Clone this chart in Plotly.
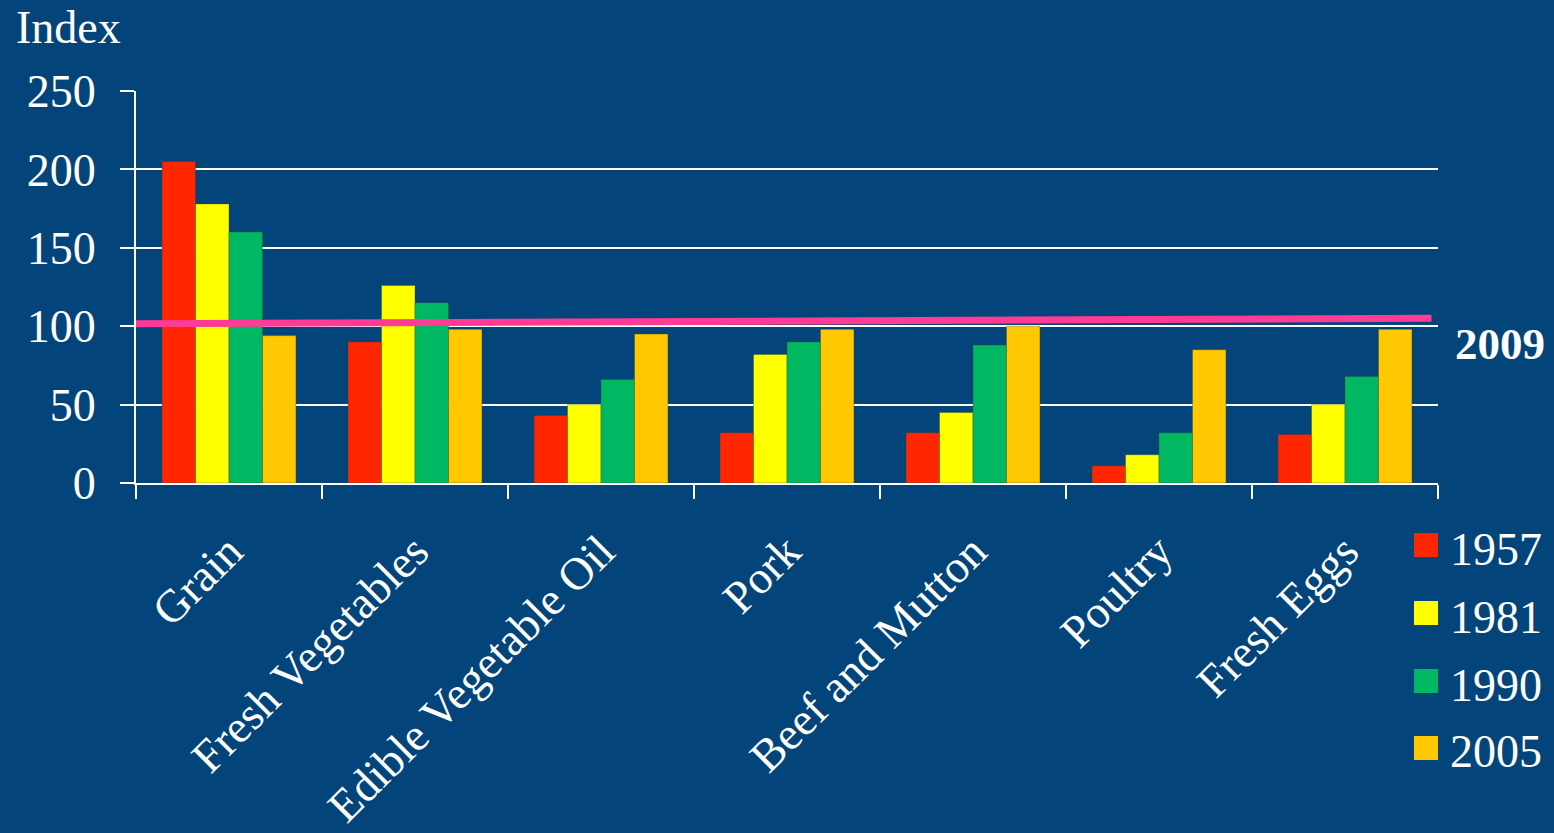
import plotly.graph_objects as go

categories = ["Grain", "Fresh Vegetables", "Edible Vegetable Oil", "Pork",
              "Beef and Mutton", "Poultry", "Fresh Eggs"]
years = ["1957", "1981", "1990", "2005"]
v1957 = [205, 90, 43, 32, 32, 11, 31]
v1981 = [178, 126, 50, 82, 45, 18, 50]
v1990 = [160, 115, 66, 90, 88, 32, 68]
v2005 = [94, 98, 95, 98, 100, 85, 98]
series = [v1957, v1981, v1990, v2005]
colors = ["#FF2600", "#FFFF00", "#00B862", "#FFC800"]

line_label = "2009"
line_x = [0.0, 0.995]
line_y = [101.5, 105.0]

y_ticks = [0, 50, 100, 150, 200, 250]

BG = "#03457A"
FONT = "Liberation Serif, Times New Roman, serif"

fig = go.Figure()
for name, vals, col in zip(years, series, colors):
    fig.add_trace(go.Bar(x=categories, y=vals, name=name, marker_color=col,
                         marker_line_width=0.6, marker_line_color="rgba(40,70,60,0.6)",
                         showlegend=False))

fig.add_trace(go.Scatter(x=line_x, y=line_y, xaxis="x2", yaxis="y", mode="lines",
                         line=dict(color="#FF3B96", width=7), showlegend=False,
                         hoverinfo="skip"))

# plot area in pixels
L, R, T, B = 136, 1438, 91, 483
W, H = 1554, 833
pw, ph = R - L, B - T

def px(x):
    return (x - L) / pw

def py(y):
    return (B - y) / ph

annotations = [
    dict(text="Index", x=px(14), y=py(28), xref="paper", yref="paper",
         xanchor="left", yanchor="middle", showarrow=False,
         font=dict(family=FONT, size=46, color="white")),
    dict(text="<b>" + line_label + "</b>", x=px(1453), y=py(344), xref="paper", yref="paper",
         xanchor="left", yanchor="middle", showarrow=False,
         font=dict(family=FONT, size=45, color="white")),
]
shapes = []
leg_y = [545, 613, 681, 748]
for name, col, cy in zip(years, colors, leg_y):
    shapes.append(dict(type="rect", xref="paper", yref="paper",
                       x0=px(1414), x1=px(1438), y0=py(cy - 12), y1=py(cy + 12),
                       fillcolor=col, line=dict(width=0)))
    annotations.append(dict(text=name, x=px(1448), y=py(cy + 4), xref="paper", yref="paper",
                            xanchor="left", yanchor="middle", showarrow=False,
                            font=dict(family=FONT, size=46, color="white")))

fig.update_layout(
    width=W, height=H,
    paper_bgcolor=BG, plot_bgcolor=BG,
    margin=dict(l=L, r=W - R, t=T, b=H - B, pad=0, autoexpand=False),
    barmode="group", bargap=0.28, bargroupgap=0,
    font=dict(family=FONT, color="white", size=44),
    xaxis=dict(showline=True, linecolor="white", linewidth=2,
               ticks="outside", ticklen=14, tickwidth=2, tickcolor="white",
               tickson="boundaries", tickangle=-45, automargin=False,
               tickfont=dict(family=FONT, size=46, color="white"),
               ticklabelstandoff=21,
               showgrid=False, zeroline=False),
    xaxis2=dict(overlaying="x", range=[0, 1], visible=False, showgrid=False),
    yaxis=dict(range=[0, 250], tickvals=y_ticks, showline=True, linecolor="white",
               linewidth=2, ticks="outside", ticklen=14, tickwidth=2, tickcolor="white",
               showgrid=True, gridcolor="white", gridwidth=2, zeroline=False,
               automargin=False,
               tickfont=dict(family=FONT, size=46, color="white"),
               ticklabelstandoff=15),
    annotations=annotations, shapes=shapes,
)

fig.write_html(
    "out.html",
    config={"displayModeBar": False},
    post_script="document.body.style.margin='0';document.body.style.background='%s';"
                "document.body.style.overflow='hidden';" % BG,
)
